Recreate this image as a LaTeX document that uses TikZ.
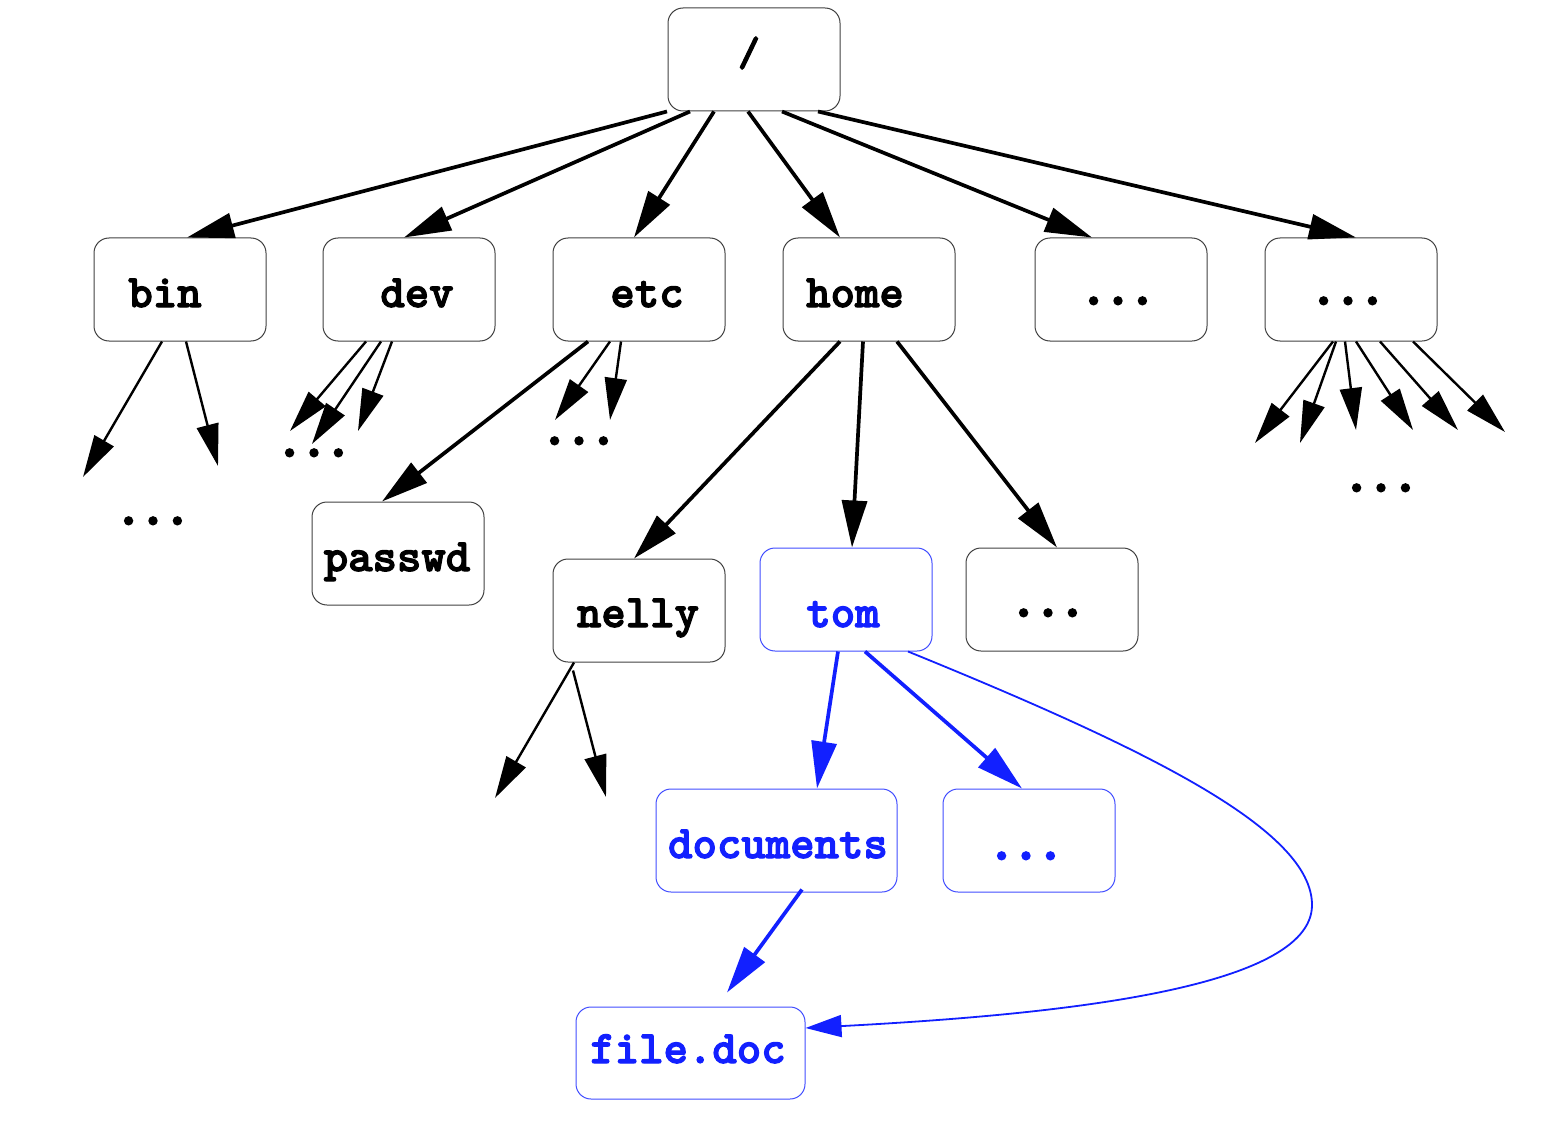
\documentclass[tikz,border=0pt]{standalone}
\usepackage{fontspec}
\newfontfamily\courb{lmmonolt10-bold.otf}[FakeBold=2.5]
\newfontfamily\courbb{lmmonolt10-bold.otf}[FakeBold=6]
\usetikzlibrary{arrows.meta}
\definecolor{fblue}{RGB}{18,32,255}
\tikzset{
  box/.style={draw=black!75, line width=1pt, rounded corners=15pt, minimum width=172pt, minimum height=103pt, inner sep=0pt},
  bbox/.style={box, draw=fblue!80},
  lbl/.style={font=\fontsize{46.5}{52}\selectfont\courb, anchor=base, inner sep=0pt},
  dots/.style={lbl, font=\fontsize{46.5}{52}\selectfont\courbb},
  tk/.style={line width=3.7pt, -{Triangle[length=47pt,width=25pt]}},
  tn/.style={line width=2.4pt, -{Triangle[length=42pt,width=22pt]}},
  bc/.style={line width=1.8pt, fblue, -{Triangle[length=36pt,width=22pt]}}
}
\begin{document}
\begin{tikzpicture}[x=1pt,y=-1pt]
\useasboundingbox (0,0) rectangle (1558,1126);
% boxes
\node[box] (root) at (754,59.5) {};
\node[box] (bin) at (180,289.5) {};
\node[box] (dev) at (409,289.5) {};
\node[box] (etc) at (639,289.5) {};
\node[box] (home) at (869,289.5) {};
\node[box] (d1) at (1121,289.5) {};
\node[box] (d2) at (1351,289.5) {};
\node[box] (passwd) at (398,553.5) {};
\node[box] (nelly) at (639,610.5) {};
\node[bbox] (tom) at (846,599.5) {};
\node[box] (d3) at (1052,599.5) {};
\node[bbox, minimum width=241pt] (docs) at (776.5,840.5) {};
\node[bbox] (d4) at (1029,840.5) {};
\node[bbox, minimum width=229pt, minimum height=92pt] (file) at (690.5,1053) {};
% labels
\node[lbl, anchor=center, font=\fontsize{42}{46}\selectfont\courb] (troot) at (749,53) {/};
\node[lbl] (tbin) at (165,307) {bin};
\node[lbl] (tdev) at (417,307) {dev};
\node[lbl] (tetc) at (647,307) {etc};
\node[lbl] (thome) at (855,307) {home};
\node[dots] (td1) at (1118,304) {...};
\node[dots] (td2) at (1348,304) {...};
\node[lbl] (tpasswd) at (397,571) {passwd};
\node[lbl] (tnelly) at (638,627) {nelly};
\node[lbl, text=fblue] (ttom) at (843,627) {tom};
\node[dots] (td3) at (1048,616) {...};
\node[lbl, text=fblue] (tdocs) at (778,858) {documents};
\node[dots, text=fblue] (td4) at (1026,859) {...};
\node[lbl, text=fblue] (tfile) at (688,1063) {file.doc};
\node[dots] (fbin) at (153,524) {...};
\node[dots] (fdev) at (314,456) {...};
\node[dots] (fetc) at (579,444) {...};
\node[dots] (fd2) at (1381,491) {...};
% free ends
\coordinate (b1) at (83,477);
\coordinate (b2) at (218,466);
\coordinate (v1) at (290,431);
\coordinate (v2) at (312,444);
\coordinate (v3) at (358,431);
\coordinate (e1) at (555,420);
\coordinate (e2) at (610,420);
\coordinate (r1) at (1255,443);
\coordinate (r2) at (1300,443);
\coordinate (r3) at (1356,430);
\coordinate (r4) at (1413,430);
\coordinate (r5) at (1458,430);
\coordinate (r6) at (1505,432);
\coordinate (n1) at (495,798);
\coordinate (n2) at (606,797);
% root edges
\draw[tk] ([xshift=-87pt]root.south) -- ([xshift=7pt]bin.north);
\draw[tk] ([xshift=-64pt]root.south) -- ([xshift=-5pt]dev.north);
\draw[tk] ([xshift=-40pt]root.south) -- ([xshift=-5pt]etc.north);
\draw[tk] ([xshift=-6pt]root.south) -- ([xshift=-29pt]home.north);
\draw[tk] ([xshift=28pt]root.south) -- ([xshift=-29pt]d1.north);
\draw[tk] ([xshift=64pt]root.south) -- ([xshift=5pt]d2.north);
% bin, dev, etc
\draw[tn] ([xshift=-18pt]bin.south) -- (b1);
\draw[tn] ([xshift=6pt]bin.south) -- (b2);
\draw[tn] ([xshift=-43pt]dev.south) -- (v1);
\draw[tn] ([xshift=-28pt]dev.south) -- (v2);
\draw[tn] ([xshift=-17pt]dev.south) -- (v3);
\draw[tk] ([xshift=-51pt]etc.south) -- ([xshift=-16pt]passwd.north);
\draw[tn] ([xshift=-29pt]etc.south) -- (e1);
\draw[tn] ([xshift=-18pt]etc.south) -- (e2);
% home
\draw[tk] ([xshift=-29pt]home.south) -- ([xshift=-5pt]nelly.north);
\draw[tk] ([xshift=-6pt]home.south) -- ([xshift=6pt]tom.north);
\draw[tk] ([xshift=28pt]home.south) -- ([xshift=5pt]d3.north);
% d2
\draw[tn] ([xshift=-18pt]d2.south) -- (r1);
\draw[tn] ([xshift=-15pt]d2.south) -- (r2);
\draw[tn] ([xshift=-6pt]d2.south) -- (r3);
\draw[tn] ([xshift=5pt]d2.south) -- (r4);
\draw[tn] ([xshift=29pt]d2.south) -- (r5);
\draw[tn] ([xshift=62pt]d2.south) -- (r6);
% nelly
\draw[tn] ([xshift=-65pt]nelly.south) -- (n1);
\draw[tn] ([xshift=-66pt,yshift=-8pt]nelly.south) -- (n2);
% tom
\draw[tk, fblue] ([xshift=-8pt]tom.south) -- ([xshift=40.5pt]docs.north);
\draw[tk, fblue] ([xshift=19pt]tom.south) -- ([xshift=-7pt]d4.north);
\draw[bc] ([xshift=62pt]tom.south) .. controls (1150,750) and (1312,830) .. (1312,905)
  .. controls (1312,990) and (1050,1015) .. ([yshift=25pt]file.east);
\draw[tk, fblue] ([xshift=25.5pt,yshift=3pt]docs.south) -- ([xshift=36.5pt,yshift=14pt]file.north);
\end{tikzpicture}
\end{document}
